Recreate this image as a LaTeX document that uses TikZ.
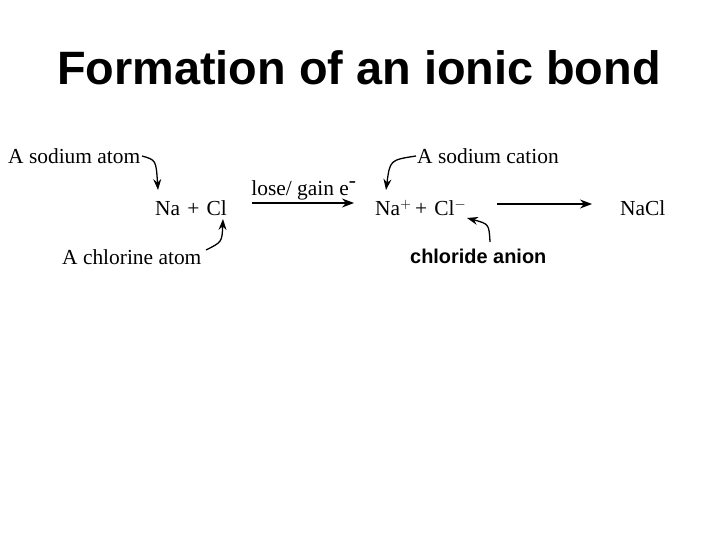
\documentclass[tikz,border=0pt]{standalone}
\usepackage{fontspec}
\setmainfont{Liberation Serif}
\newfontfamily\arial{Liberation Sans}
\usetikzlibrary{arrows.meta}
\begin{document}
\begin{tikzpicture}[x=1bp,y=-1bp,
  lbl/.style={inner sep=0pt,font=\fontsize{21.5}{24}\selectfont},
  arr/.style={-{Stealth[length=12pt,width=9pt]},line width=1.3pt},
  carr/.style={-{Stealth[length=11pt,width=8pt]},line width=1.3pt}]
\useasboundingbox[fill=white] (0,0) rectangle (720,540);
\node[inner sep=0pt,font=\arial\bfseries\fontsize{47}{54}\selectfont] (title) at (359,68) {Formation of an ionic bond};
\node[lbl,anchor=west] (sa) at (8,156) {A sodium atom};
\node[lbl,anchor=west] (r1) at (155,208) {Na\,\,+\,\,Cl};
\node[lbl] (le) at (304,190) {lose/ gain e$^{\mbox{-}}$};
\coordinate (a1s) at (252,203);
\coordinate (a1e) at (354,203);
\draw[arr] (a1s) -- (a1e);
\node[lbl,anchor=west] (r2) at (375,208) {Na$^{+}$\,+\,\,Cl$^{-}$};
\coordinate (a2s) at (497,204);
\coordinate (a2e) at (592,204);
\draw[arr] (a2s) -- (a2e);
\node[lbl,anchor=west] (nacl) at (620,208) {NaCl};
\node[lbl,anchor=west] (sc) at (417,156) {A sodium cation};
\node[lbl,anchor=west] (ca) at (62,257) {A chlorine atom};
\node[inner sep=0pt,anchor=west,font=\arial\bfseries\fontsize{20}{23}\selectfont] (an) at (410,256) {chloride anion};
\coordinate (s1) at (142,156);
\coordinate (t1) at (158,190);
\coordinate (s2) at (206,250);
\coordinate (t2) at (223,219);
\coordinate (s3) at (416,156);
\coordinate (t3) at (386,190);
\coordinate (t4) at (467,218);
\coordinate (s4) at (490,242);
\draw[carr] (s1) .. controls (156,160) .. (t1);
\draw[carr] (s2) .. controls (222,242) .. (t2);
\draw[carr] (s3) .. controls (390,160) .. (t3);
\draw[carr] (s4) .. controls (489,224) .. (t4);
\end{tikzpicture}
\end{document}
